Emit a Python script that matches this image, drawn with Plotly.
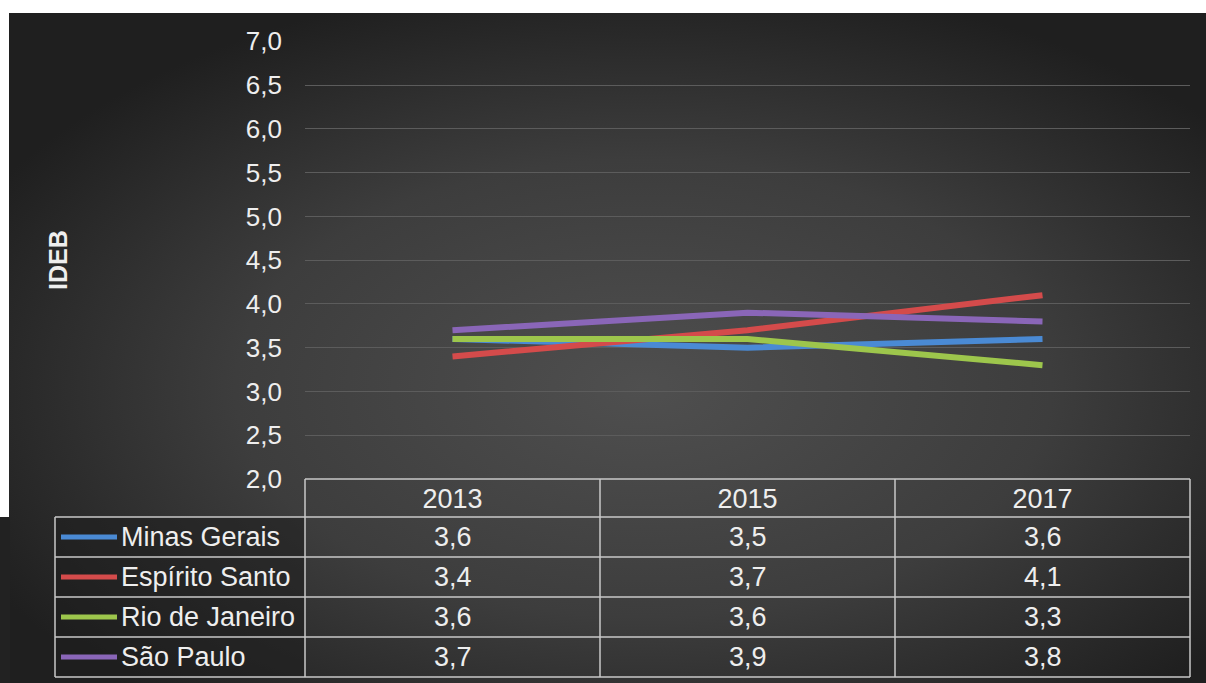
import base64
import plotly.graph_objects as go

years = ["2013", "2015", "2017"]
states = ["Minas Gerais", "Espírito Santo", "Rio de Janeiro", "São Paulo"]
minas_gerais = [3.6, 3.5, 3.6]
espirito_santo = [3.4, 3.7, 4.1]
rio_de_janeiro = [3.6, 3.6, 3.3]
sao_paulo = [3.7, 3.9, 3.8]
series = [minas_gerais, espirito_santo, rio_de_janeiro, sao_paulo]
colors = ["#4a8ad4", "#d44b4b", "#9dc64c", "#8a66b8"]
y_ticks = [2.0, 2.5, 3.0, 3.5, 4.0, 4.5, 5.0, 5.5, 6.0, 6.5, 7.0]

W, H = 1206, 683
L, R, T, B = 305, 16, 41, 204
PW, PH = W - L - R, H - T - B
FONT = "Liberation Sans, Arial, sans-serif"
TXT = "#eeeeee"


def px_x(px):
    return (px - L) / PW


def px_y(py):
    return (H - B - py) / PH


def cat_x(i):
    # category axis range is [-0.5, n-0.5]
    n = len(years)
    return (i + 0.5) / n


fig = go.Figure()
for name, vals, col in zip(states, series, colors):
    fig.add_trace(go.Scatter(x=years, y=vals, mode="lines", name=name,
                             line=dict(color=col, width=6), showlegend=False))

# background gradient
svg = ('<svg xmlns="http://www.w3.org/2000/svg" width="1197" height="670" preserveAspectRatio="none">'
       '<defs><radialGradient id="g" cx="0.53" cy="0.56" r="0.62">'
       '<stop offset="0" stop-color="#4f4f4f"/><stop offset="0.55" stop-color="#3d3d3d"/>'
       '<stop offset="1" stop-color="#1f1f1f"/></radialGradient></defs>'
       '<rect width="100%" height="100%" fill="url(#g)"/></svg>')
uri = "data:image/svg+xml;base64," + base64.b64encode(svg.encode()).decode()

shapes = []
annotations = []

# left strip below
shapes.append(dict(type="rect", xref="paper", yref="paper", x0=px_x(0), x1=px_x(10),
                   y0=px_y(683), y1=px_y(517), fillcolor="#222222", line=dict(width=0), layer="below"))

lc = "#c8c8c8"
lw = 1.5
table_top = 479
header_bot = 517
row_h = 40
n_rows = len(states)
table_bot = header_bot + row_h * n_rows
left_px = 55

# row label column fill
shapes.append(dict(type="rect", xref="paper", yref="paper", x0=px_x(left_px), x1=0,
                   y0=px_y(table_bot), y1=px_y(header_bot), fillcolor="rgba(30,30,30,0.55)",
                   line=dict(width=0), layer="below"))

# horizontal lines
shapes.append(dict(type="line", xref="paper", yref="paper", x0=0, x1=1,
                   y0=px_y(table_top), y1=px_y(table_top), line=dict(color=lc, width=lw)))
for k in range(n_rows + 1):
    yy = px_y(header_bot + row_h * k)
    shapes.append(dict(type="line", xref="paper", yref="paper", x0=px_x(left_px), x1=1,
                       y0=yy, y1=yy, line=dict(color=lc, width=lw)))
# vertical lines
for i in range(len(years) + 1):
    xx = i / len(years)
    shapes.append(dict(type="line", xref="paper", yref="paper", x0=xx, x1=xx,
                       y0=px_y(table_bot), y1=px_y(table_top), line=dict(color=lc, width=lw)))
shapes.append(dict(type="line", xref="paper", yref="paper", x0=px_x(left_px), x1=px_x(left_px),
                   y0=px_y(table_bot), y1=px_y(header_bot), line=dict(color=lc, width=lw)))

# row labels, legend keys, values
for k, (name, vals, col) in enumerate(zip(states, series, colors)):
    cy = px_y(header_bot + row_h * k + row_h / 2)
    shapes.append(dict(type="line", xref="paper", yref="paper", x0=px_x(61), x1=px_x(117),
                       y0=cy, y1=cy, line=dict(color=col, width=5)))
    annotations.append(dict(xref="paper", yref="paper", x=px_x(119), y=cy, text=name,
                            showarrow=False, xanchor="left", yanchor="middle",
                            font=dict(family=FONT, size=27, color=TXT)))
    for i, v in enumerate(vals):
        annotations.append(dict(xref="paper", yref="paper", x=cat_x(i), y=cy,
                                text=f"{v:.1f}".replace(".", ","), showarrow=False,
                                xanchor="center", yanchor="middle",
                                font=dict(family=FONT, size=27, color=TXT)))

annotations.append(dict(xref="paper", yref="paper", x=px_x(58), y=px_y(260), text="<b>IDEB</b>",
                        textangle=-90, showarrow=False, xanchor="center", yanchor="middle",
                        font=dict(family=FONT, size=25, color=TXT)))

fig.update_layout(
    width=W, height=H,
    margin=dict(l=L, r=R, t=T, b=B, pad=0),
    paper_bgcolor="white",
    plot_bgcolor="rgba(0,0,0,0)",
    separators=",.",
    font=dict(family=FONT, color=TXT),
    images=[dict(source=uri, xref="paper", yref="paper", x=px_x(9), y=px_y(13),
                 sizex=(W - 9) / PW, sizey=(683 - 13) / PH, sizing="stretch",
                 xanchor="left", yanchor="top", layer="below")],
    shapes=shapes,
    annotations=annotations,
)
fig.update_xaxes(type="category", range=[-0.5, len(years) - 0.5], showgrid=False,
                 zeroline=False, showline=False, ticks="",
                 tickfont=dict(family=FONT, size=27, color=TXT), ticklabelstandoff=1)
fig.update_yaxes(range=[2, 7.004], tickvals=y_ticks, tickformat=".1f", showgrid=True,
                 gridcolor="#5c5c5c", gridwidth=1, zeroline=False, showline=False, ticks="",
                 tickfont=dict(family=FONT, size=26, color=TXT), ticklabelstandoff=22)

fig.write_html("out.html", config={"displayModeBar": False},
               post_script="document.body.style.margin='0';document.body.style.overflow='hidden';")
